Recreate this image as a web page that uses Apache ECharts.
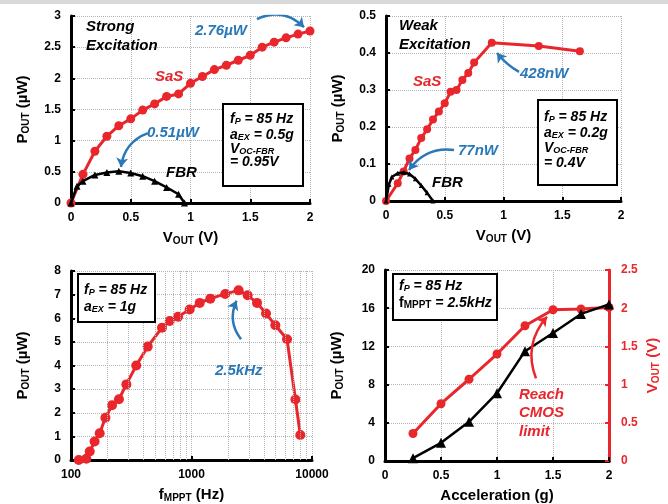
<!DOCTYPE html>
<html>
<head>
<meta charset="utf-8">
<script src="https://cdn.jsdelivr.net/npm/echarts@6/dist/echarts.min.js"></script>
<style>
  html, body { margin: 0; padding: 0; background: #fff; }
  #chart { width: 668px; height: 504px; }
</style>
</head>
<body>
<div id="chart"></div>
<script>
// strong excitation (aEX = 0.5g)
const sasStrongV = [0, 0.1, 0.2, 0.3, 0.4, 0.5, 0.6, 0.7, 0.8, 0.9, 1.0, 1.1, 1.2, 1.3, 1.4, 1.5, 1.6, 1.7, 1.8, 1.9, 2.0];
const sasStrongP = [0, 0.46, 0.83, 1.07, 1.24, 1.35, 1.49, 1.59, 1.71, 1.75, 1.92, 2.03, 2.14, 2.21, 2.29, 2.37, 2.5, 2.58, 2.65, 2.71, 2.76];
const fbrStrongV = [0, 0.05, 0.1, 0.2, 0.3, 0.4, 0.5, 0.6, 0.7, 0.8, 0.9, 0.95];
const fbrStrongP = [0, 0.27, 0.35, 0.45, 0.49, 0.51, 0.48, 0.43, 0.35, 0.25, 0.14, 0];

// weak excitation (aEX = 0.2g)
const sasWeakV = [0, 0.1, 0.15, 0.2, 0.25, 0.3, 0.35, 0.4, 0.45, 0.5, 0.55, 0.6, 0.65, 0.7, 0.75, 0.9, 1.3, 1.65];
const sasWeakP = [0, 0.048, 0.08, 0.115, 0.138, 0.17, 0.194, 0.22, 0.242, 0.264, 0.295, 0.3, 0.327, 0.346, 0.374, 0.428, 0.419, 0.405];
const fbrWeakV = [0, 0.025, 0.05, 0.1, 0.15, 0.2, 0.25, 0.3, 0.35, 0.4];
const fbrWeakP = [0, 0.045, 0.065, 0.075, 0.077, 0.073, 0.06, 0.042, 0.022, 0];

// MPPT frequency sweep
const mpptF = [116, 134, 143, 157, 173, 193, 219, 250, 288, 348, 433, 569, 659, 773, 966, 1170, 1433, 1907, 2459, 2924, 3497, 4153, 4963, 6207, 7285, 8000];
const mpptP = [0, 0.05, 0.36, 0.78, 1.13, 1.79, 2.32, 2.57, 3.2, 4.0, 4.8, 5.6, 5.88, 6.06, 6.37, 6.65, 6.83, 7.03, 7.18, 6.97, 6.65, 6.2, 5.7, 5.11, 2.56, 1.06];
const logMinor = [200, 300, 400, 500, 600, 700, 800, 900, 2000, 3000, 4000, 5000, 6000, 7000, 8000, 9000];

// acceleration sweep
const accel = [0.25, 0.5, 0.75, 1, 1.25, 1.5, 1.75, 2];
const accelP = [0.3, 1.9, 4.1, 7.1, 11.5, 13.4, 15.4, 16.4];
const accelV = [0.36, 0.75, 1.07, 1.4, 1.77, 1.98, 1.99, 2.01];

const RED = "#e8262b";
const BLUE = "#2a78b8";
const FONT = "Liberation Sans";

const zip = (a, b) => a.map((v, i) => [v, b[i]]);

const chart = echarts.init(document.getElementById("chart"));

function xAx(idx, name, extra) {
  return Object.assign({
    gridIndex: idx,
    type: "value",
    min: 0, max: 2, interval: 0.5,
    name: name,
    nameLocation: "middle",
    nameGap: 27,
    nameTextStyle: {
      fontFamily: FONT, fontWeight: "bold", fontSize: 15, color: "#000",
      rich: { s: { fontFamily: FONT, fontWeight: "bold", fontSize: 10, color: "#000", verticalAlign: "bottom", padding: [6, 0, 0, 0] } }
    },
    axisLine: { onZero: false, lineStyle: { color: "#000", width: 3 } },
    axisTick: { show: true, inside: true, length: 4, lineStyle: { color: "#000", width: 2 } },
    axisLabel: { fontFamily: FONT, fontWeight: "bold", fontSize: 12, color: "#000", margin: 9 },
    splitLine: { show: true, lineStyle: { color: "#b5b5b5", type: "dotted", width: 1 } }
  }, extra || {});
}

function yAx(idx, name, min, max, interval, extra) {
  return Object.assign({
    gridIndex: idx,
    type: "value",
    min: min, max: max, interval: interval,
    name: name,
    nameLocation: "middle",
    nameGap: 40,
    nameRotate: 90,
    nameTextStyle: {
      fontFamily: FONT, fontWeight: "bold", fontSize: 15, color: "#000",
      rich: { s: { fontFamily: FONT, fontWeight: "bold", fontSize: 10, color: "#000", verticalAlign: "bottom", padding: [6, 0, 0, 0] } }
    },
    axisLine: { onZero: false, lineStyle: { color: "#000", width: 3 } },
    axisTick: { show: true, inside: true, length: 4, lineStyle: { color: "#000", width: 2 } },
    axisLabel: { fontFamily: FONT, fontWeight: "bold", fontSize: 12, color: "#000", margin: 10 },
    splitLine: { show: true, lineStyle: { color: "#b5b5b5", type: "dotted", width: 1 } }
  }, extra || {});
}

function redLine(xi, yi, data, extra) {
  return Object.assign({
    type: "line", xAxisIndex: xi, yAxisIndex: yi, data: data,
    symbol: "circle", symbolSize: 9, silent: true,
    lineStyle: { color: RED, width: 3 },
    itemStyle: { color: RED },
    z: 3
  }, extra || {});
}

function blackLine(xi, yi, data, size) {
  return {
    type: "line", xAxisIndex: xi, yAxisIndex: yi, data: data,
    symbol: "triangle", symbolSize: size, silent: true,
    lineStyle: { color: "#000", width: 2.5 },
    itemStyle: { color: "#000" },
    z: 4
  };
}

function arrow(xi, yi, from, to, color, curve) {
  return {
    type: "lines", coordinateSystem: "cartesian2d", xAxisIndex: xi, yAxisIndex: yi,
    silent: true, z: 6,
    symbol: ["none", "arrow"], symbolSize: 9,
    lineStyle: { color: color, width: 2.5, curveness: curve, opacity: 1 },
    data: [{ coords: [from, to] }]
  };
}

// note labels
function note(x, y, text, color, size) {
  return {
    type: "text", x: x, y: y, z: 100,
    style: { text: text, fill: color, font: "italic bold " + (size || 15) + "px '" + FONT + "'", verticalAlign: "middle", align: "left" }
  };
}

const boxRich = {
  i: { fontFamily: FONT, fontStyle: "italic", fontWeight: "bold", fontSize: 14, color: "#000" },
  n: { fontFamily: FONT, fontWeight: "bold", fontSize: 14, color: "#000" },
  s: { fontFamily: FONT, fontStyle: "italic", fontWeight: "bold", fontSize: 9, color: "#000", verticalAlign: "bottom", padding: [5, 0, 0, 0] },
  u: { fontFamily: FONT, fontWeight: "bold", fontSize: 10, color: "#000", verticalAlign: "bottom", padding: [5, 0, 0, 0] }
};

function boxLine(x, y, text) {
  return {
    type: "text", x: x, y: y, z: 101,
    style: { text: text, rich: boxRich, verticalAlign: "middle", align: "left" }
  };
}

function box(x, y, w, h) {
  return {
    type: "rect", z: 99,
    shape: { x: x, y: y, width: w, height: h },
    style: { fill: "#fff", stroke: "#000", lineWidth: 2 }
  };
}

const option = {
  backgroundColor: "#fff",
  animation: false,
  grid: [
    { left: 71, top: 16, width: 239, height: 187 },
    { left: 386, top: 16, width: 235, height: 185 },
    { left: 71, top: 271, width: 241, height: 191 },
    { left: 385, top: 270, width: 224, height: 192 }
  ],
  xAxis: [
    xAx(0, "V{s|OUT} (V)"),
    xAx(1, "V{s|OUT} (V)"),
    xAx(2, "f{s|MPPT} (Hz)", {
      type: "log", logBase: 10, min: 100, max: 10000, interval: null,
      axisLabel: { fontFamily: FONT, fontWeight: "bold", fontSize: 12, color: "#000", margin: 9, formatter: v => String(Math.round(v)) }
    }),
    xAx(3, "Acceleration (g)")
  ],
  yAxis: [
    yAx(0, "P{s|OUT} (µW)", 0, 3, 0.5),
    yAx(1, "P{s|OUT} (µW)", 0, 0.5, 0.1),
    yAx(2, "P{s|OUT} (µW)", 0, 8, 1),
    yAx(3, "P{s|OUT} (µW)", 0, 20, 4),
    yAx(3, "V{s|OUT} (V)", 0, 2.5, 0.5, {
      position: "right",
      nameGap: 36,
      nameTextStyle: {
        fontFamily: FONT, fontWeight: "bold", fontSize: 15, color: RED,
        rich: { s: { fontFamily: FONT, fontWeight: "bold", fontSize: 10, color: RED, verticalAlign: "bottom", padding: [6, 0, 0, 0] } }
      },
      axisLine: { onZero: false, lineStyle: { color: RED, width: 3 } },
      axisTick: { show: true, inside: true, length: 4, lineStyle: { color: RED, width: 2 } },
      axisLabel: { fontFamily: FONT, fontWeight: "bold", fontSize: 12, color: RED, margin: 12 },
      splitLine: { show: false }
    })
  ],
  series: [
    redLine(0, 0, zip(sasStrongV, sasStrongP)),
    blackLine(0, 0, zip(fbrStrongV, fbrStrongP), 7),
    redLine(1, 1, zip(sasWeakV, sasWeakP), { symbolSize: 8 }),
    blackLine(1, 1, zip(fbrWeakV, fbrWeakP), 5),
    redLine(2, 2, zip(mpptF, mpptP), {
      symbolSize: 10,
      markLine: {
        silent: true, symbol: "none", label: { show: false },
        lineStyle: { color: "#b5b5b5", type: "dotted", width: 1 },
        data: logMinor.map(v => ({ xAxis: v }))
      }
    }),
    blackLine(3, 3, zip(accel, accelP), 10),
    redLine(3, 4, zip(accel, accelV)),
    arrow(0, 0, [1.556, 2.95], [1.95, 2.82], BLUE, 0.35),
    arrow(0, 0, [0.644, 1.12], [0.418, 0.578], BLUE, -0.3),
    arrow(1, 1, [1.132, 0.349], [0.945, 0.4], BLUE, 0.1),
    arrow(1, 1, [0.579, 0.138], [0.196, 0.084], BLUE, -0.3),
    arrow(2, 2, [2576, 5.11], [2362, 6.74], BLUE, 0.3),
    arrow(3, 3, [1.348, 8.65], [1.446, 15.1], RED, 0.3)
  ],
  graphic: [
    { type: "rect", z: 100, shape: { x: 0, y: 0, width: 668, height: 4 }, style: { fill: "#d9d9d9" } },

    note(86, 27, "Strong", "#000"),
    note(86, 46, "Excitation", "#000"),
    note(155, 77, "SaS", RED),
    note(166, 173, "FBR", "#000"),
    note(195, 31, "2.76µW", BLUE),
    note(147, 133, "0.51µW", BLUE),
    box(223, 104, 80, 82),
    boxLine(230, 119, "{i|f}{s|P}{i| = 85 Hz}"),
    boxLine(230, 135, "{i|a}{s|EX}{i| = 0.5g}"),
    boxLine(230, 149, "{i|V}{s|OC-FBR}"),
    boxLine(230, 162, "{i|= 0.95V}"),

    note(399, 26, "Weak", "#000"),
    note(399, 45, "Excitation", "#000"),
    note(413, 82, "SaS", RED),
    note(432, 183, "FBR", "#000"),
    note(520, 74, "428nW", BLUE),
    note(458, 151, "77nW", BLUE),
    box(538, 100, 79, 85),
    boxLine(544, 117, "{i|f}{s|P}{i| = 85 Hz}"),
    boxLine(544, 133, "{i|a}{s|EX}{i| = 0.2g}"),
    boxLine(544, 148, "{i|V}{s|OC-FBR}"),
    boxLine(544, 163, "{i|= 0.4V}"),

    note(215, 371, "2.5kHz", BLUE),
    box(78, 274, 77, 48),
    boxLine(84, 290, "{i|f}{s|P}{i| = 85 Hz}"),
    boxLine(84, 307, "{i|a}{s|EX}{i| = 1g}"),

    note(519, 395, "Reach", RED),
    note(519, 413, "CMOS", RED),
    note(519, 432, "limit", RED),
    box(393, 274, 104, 46),
    boxLine(399, 286, "{i|f}{s|P}{i| = 85 Hz}"),
    boxLine(399, 303, "{n|f}{u|MPPT}{i| = 2.5kHz}")
  ]
};

chart.setOption(option);
</script>
</body>
</html>
